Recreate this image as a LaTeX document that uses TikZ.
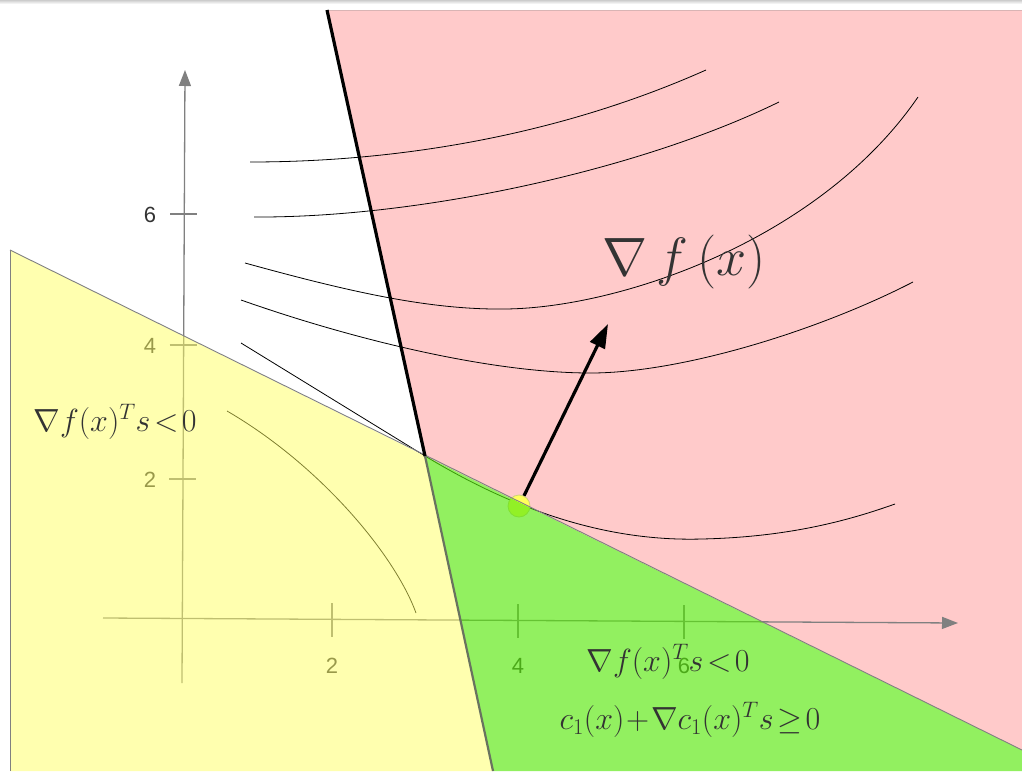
\RequirePackage{fix-cm}
\documentclass[tikz,border=0pt]{standalone}
\usepackage{fontspec}
\newfontfamily\axisfont{Liberation Sans}
\usetikzlibrary{arrows.meta}
\definecolor{pinkfill}{RGB}{255,202,202}
\definecolor{yellowfill}{RGB}{255,255,97}
\definecolor{greenfill}{RGB}{88,232,11}
\definecolor{txt}{RGB}{51,51,51}
\definecolor{axisgray}{RGB}{128,128,128}
\definecolor{dotfill}{RGB}{255,255,90}
\definecolor{dotdraw}{RGB}{205,210,120}
\definecolor{lowerline}{RGB}{105,115,95}
\begin{document}
\begin{tikzpicture}[x=1pt,y=-1pt,
  contour/.style={line width=0.8pt, black},
  axisline/.style={axisgray, line width=1.3pt, -{Triangle[length=16pt,width=12pt]}},
  tickline/.style={axisgray, line width=1.3pt},
  ticklabel/.style={font=\axisfont\fontsize{22}{26}\selectfont, text=txt, inner sep=0pt},
  mathlabel/.style={text=txt, inner sep=0pt}]
\useasboundingbox (0,0) rectangle (1022,771);
\fill[white] (0,0) rectangle (1022,771);
\shade[top color=gray!40, bottom color=white] (0,0) rectangle (1022,4);
% key points
\coordinate (P) at (425,456);
\coordinate (Ttop) at (327,10);
\coordinate (Tbot) at (493,771);
\coordinate (Lleft) at (10,250);
\coordinate (Lright) at (1022,750);
\coordinate (TR) at (1022,10);
\coordinate (BR) at (1022,771);
\coordinate (BL) at (10,771);
% pink region
\fill[pinkfill] (Ttop) -- (TR) -- (Lright) -- (P) -- cycle;
\draw[pinkfill!70!gray, line width=1pt] (Ttop) -- (TR);
% axes
\coordinate (xs) at (103,618);
\coordinate (xe) at (958,623);
\coordinate (ys) at (182,683);
\coordinate (ye) at (185,70);
\draw[axisline] (xs) -- (xe);
\draw[axisline] (ys) -- (ye);
\foreach \x/\yy/\l in {332/620/2, 518/621/4, 684/622/6}{
  \draw[tickline] (\x,\yy-17) -- (\x,\yy+17);
  \node[ticklabel] (xl\l) at (\x,666) {\l};
}
\foreach \y/\xx/\l in {214/184/6, 345/183.5/4, 479/183/2}{
  \draw[tickline] (\xx-14,\y) -- (\xx+13,\y);
  \node[ticklabel] (yl\l) at (150,\y+1) {\l};
}
% contours
\draw[contour] (250,162) .. controls (400,162) and (560,135) .. (706,70);
\draw[contour] (254,217) .. controls (420,218) and (640,170) .. (779,102);
\draw[contour] (245,263) .. controls (350,292) and (430,310) .. (505,309)
                         .. controls (620,308) and (820,240) .. (918,97);
\draw[contour] (241,300) .. controls (340,335) and (480,372) .. (587,373)
                         .. controls (680,374) and (820,330) .. (913,282);
\draw[contour] (241,343) -- (425,456) .. controls (508,506) and (600,542) .. (702,539)
                         .. controls (790,537) and (850,520) .. (895,504);
\draw[contour] (227,411) .. controls (320,465) and (395,555) .. (416,613);
% point
\node[circle, minimum size=22pt, inner sep=0pt, fill=dotfill, draw=dotdraw, line width=0.8pt] (pt) at (519,506) {};
% translucent regions
\fill[yellowfill, opacity=0.5] (Lleft) -- (P) -- (Tbot) -- (BL) -- cycle;
\fill[greenfill, opacity=0.65] (P) -- (Lright) -- (BR) -- (Tbot) -- cycle;
% boundaries
\draw[axisgray, line width=0.9pt] (Lleft) -- (Lright);
\draw[axisgray, line width=0.9pt] (Lleft) -- (BL);
\draw[lowerline, line width=2.2pt] (P) -- (Tbot);
\draw[black, line width=3.2pt] (Ttop) -- (P);
% gradient arrow
\coordinate (tip) at (608,324);
\draw[black, line width=3.2pt, -{Triangle[length=24pt,width=16pt]}] (pt) -- (tip);
% labels
\node[mathlabel, font=\fontsize{54}{60}\selectfont] (grad) at (684,262) {$\nabla\,f\,(x)$};
\node[mathlabel, font=\fontsize{32}{36}\selectfont] (cond1) at (115,422) {$\nabla f(x)^{T} s\!<\!0$};
\node[mathlabel, font=\fontsize{32}{36}\selectfont] (cond2) at (668,662) {$\nabla f(x)^{T} s\!<\!0$};
\node[mathlabel, font=\fontsize{32}{36}\selectfont] (cond3) at (690,720) {$c_1(x)\!+\!\nabla c_1(x)^{T} s\!\geq\! 0$};
\end{tikzpicture}
\end{document}
